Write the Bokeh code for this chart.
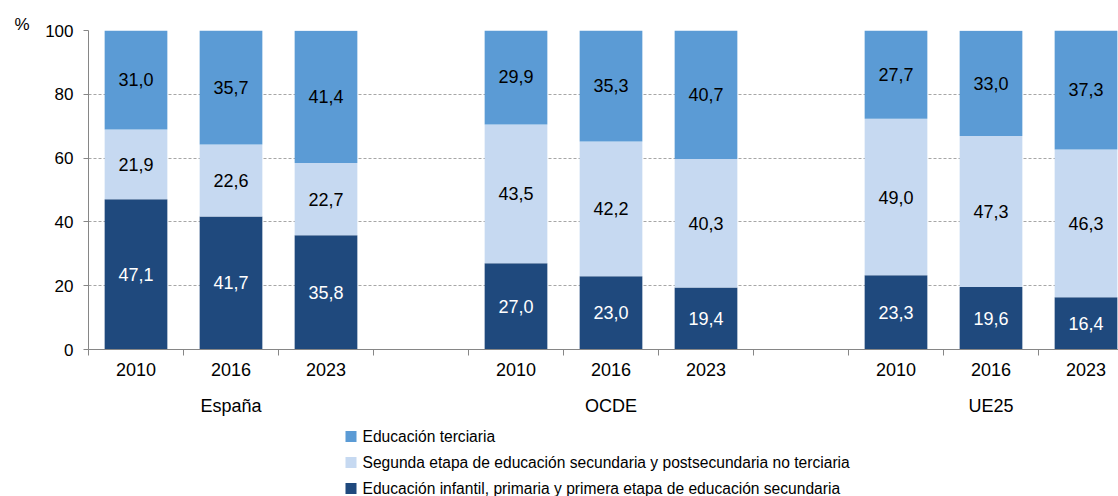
from bokeh.plotting import figure
from bokeh.layouts import column
from bokeh.models import ColumnDataSource, FixedTicker, Range1d
from bokeh.core.properties import value
from bokeh.embed import file_html
from bokeh.resources import INLINE

# ---- data ----
groups = ["España", "OCDE", "UE25"]
years = ["2010", "2016", "2023"]
series_names = [
    "Educación terciaria",
    "Segunda etapa de educación secundaria y postsecundaria no terciaria",
    "Educación infantil, primaria y primera etapa de educación secundaria",
]
# per bar (España 2010, 2016, 2023, OCDE ..., UE25 ...)
basica = [47.1, 41.7, 35.8, 27.0, 23.0, 19.4, 23.3, 19.6, 16.4]
secundaria = [21.9, 22.6, 22.7, 43.5, 42.2, 40.3, 49.0, 47.3, 46.3]
terciaria = [31.0, 35.7, 41.4, 29.9, 35.3, 40.7, 27.7, 33.0, 37.3]
y_ticks = [0, 20, 40, 60, 80, 100]

COL_TER = "#5B9BD5"
COL_SEC = "#C6D9F1"
COL_BAS = "#1F497D"
FONT = "Liberation Sans"
SLOT = 95      # px per category slot
LEFT = 88      # px left border
FW = 1030      # frame width

xs = []
for gi in range(len(groups)):
    for yi in range(len(years)):
        xs.append(gi * 4 + yi + 0.5)

src = ColumnDataSource(dict(x=xs, basica=basica, secundaria=secundaria, terciaria=terciaria))

p = figure(frame_width=FW, frame_height=319, output_backend="svg", toolbar_location=None,
           x_range=Range1d(0, FW / SLOT), y_range=Range1d(0, 100),
           min_border_left=LEFT, min_border_right=0, min_border_top=30, min_border_bottom=40,
           title="%")
p.outline_line_color = None
p.title.align = "left"
p.title.offset = -74
p.title.standoff = -7
p.title.text_font = FONT
p.title.text_font_size = "17px"
p.title.text_font_style = "normal"
p.title.text_color = "black"

r = p.vbar_stack(["basica", "secundaria", "terciaria"], x="x", width=0.66, source=src,
                 color=[COL_BAS, COL_SEC, COL_TER], line_color=None)

# value labels
lx, ly, lt, lc = [], [], [], []
for i, x in enumerate(xs):
    b, s, t = basica[i], secundaria[i], terciaria[i]
    for lo, v, c in [(0, b, "white"), (b, s, "black"), (b + s, t, "black")]:
        lx.append(x)
        ly.append(lo + v / 2)
        lt.append(f"{v:.1f}".replace(".", ","))
        lc.append(c)
p.text(x=lx, y=ly, text=lt, text_color=lc, text_align="center", text_baseline="middle",
       text_font=value(FONT), text_font_size="18px")

# grid
p.xgrid.visible = False
p.ygrid.ticker = FixedTicker(ticks=y_ticks)
p.ygrid.grid_line_color = "#A6A6A6"
p.ygrid.grid_line_dash = "3 2"
p.ygrid.grid_line_width = 1

# y axis
p.yaxis.ticker = FixedTicker(ticks=y_ticks)
p.yaxis.axis_line_color = "#868686"
p.yaxis.major_tick_line_color = "#868686"
p.yaxis.major_tick_out = 5
p.yaxis.major_tick_in = 0
p.yaxis.minor_tick_line_color = None
p.yaxis.major_label_standoff = 10
p.yaxis.major_label_text_font = FONT
p.yaxis.major_label_text_font_size = "17px"
p.yaxis.major_label_text_color = "black"

# x axis: year labels at bar centres, tick marks at slot boundaries
p.xaxis.ticker = FixedTicker(ticks=xs, minor_ticks=list(range(0, 12)))
p.xaxis.major_label_overrides = {x: years[i % 3] for i, x in enumerate(xs)}
p.xaxis.major_tick_line_color = None
p.xaxis.minor_tick_line_color = "#868686"
p.xaxis.minor_tick_out = 6
p.xaxis.minor_tick_in = 0
p.xaxis.axis_line_color = "#868686"
p.xaxis.major_label_standoff = 7
p.xaxis.major_label_text_font = FONT
p.xaxis.major_label_text_font_size = "18px"
p.xaxis.major_label_text_color = "black"

# ---- lower strip: group labels + legend (pixel coordinates relative to frame, y down) ----
H2 = 107
q = figure(frame_width=FW, frame_height=H2, output_backend="svg", toolbar_location=None,
           x_range=Range1d(0, FW), y_range=Range1d(H2, 0),
           min_border_left=LEFT, min_border_right=0, min_border_top=0, min_border_bottom=0,
           x_axis_type=None, y_axis_type=None)
q.outline_line_color = None
q.grid.visible = False

gx = [SLOT * (gi * 4 + 1.5) for gi in range(len(groups))]
q.text(x=gx, y=[16] * len(groups), text=groups, text_align="center", text_baseline="middle",
       text_font=value(FONT), text_font_size="18px", text_color="black")

leg_cols = [COL_TER, COL_SEC, COL_BAS]
leg_y = [47, 73, 99]
q.rect(x=[262.5] * 3, y=leg_y, width=11, height=11, fill_color=leg_cols, line_color=None)
q.text(x=[274] * 3, y=leg_y, text=series_names, text_align="left", text_baseline="middle",
       text_font=value(FONT), text_font_size="15.6px", text_color="black")

open("out.html", "w").write(file_html(column(p, q, spacing=0), INLINE))
